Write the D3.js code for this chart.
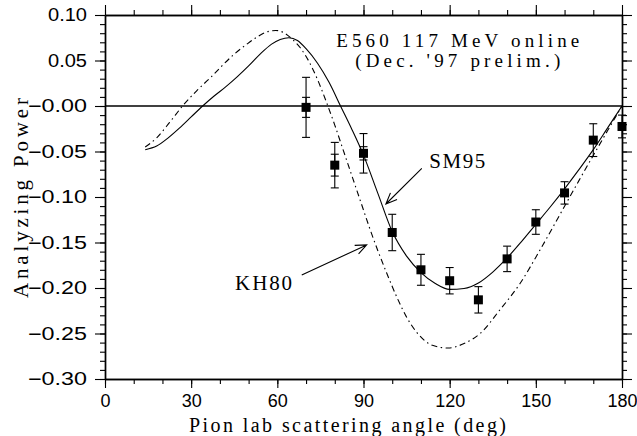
<!DOCTYPE html>
<html>
<head>
<meta charset="utf-8">
<script src="https://cdn.jsdelivr.net/npm/d3@7"></script>
<style>
  body { margin: 0; background: #fff; }
  svg { display: block; }
</style>
</head>
<body>
<div id="chartArea"></div>
<script>
// data
const angles = [70, 80, 90, 100, 110, 120, 130, 140, 150, 160, 170, 180];
const power = [-0.0015, -0.065, -0.052, -0.139, -0.180, -0.192, -0.213, -0.168, -0.1275, -0.0955, -0.0375, -0.0225];
const errTotal = [0.033, 0.025, 0.0217, 0.020, 0.017, 0.0145, 0.0145, 0.014, 0.0135, 0.0123, 0.018, 0.0125];
const errStat = [0.011, 0.012, 0.0073, null, null, null, null, null, null, null, null, null];

// SM95 (solid)
const sm95Angle = [14, 18, 22, 26, 30, 34, 38, 42, 46, 50, 54, 58, 61, 64, 67, 70, 74, 78, 82, 86, 90, 95, 100, 105, 110, 115, 120, 125, 130, 135, 140, 145, 150, 155, 160, 165, 170, 175, 180];
const sm95Power = [-0.048, -0.044, -0.035, -0.024, -0.012, 0.0, 0.011, 0.021, 0.032, 0.044, 0.057, 0.068, 0.073, 0.075, 0.072, 0.063, 0.047, 0.026, 0.0, -0.026, -0.054, -0.096, -0.138, -0.165, -0.183, -0.195, -0.2015, -0.2005, -0.1945, -0.1825, -0.167, -0.149, -0.130, -0.111, -0.091, -0.070, -0.048, -0.024, 0.0];

// KH80 (dash-dot)
const kh80Angle = [14, 18, 22.5, 27, 32, 37, 41, 45, 49, 53, 57, 59.5, 62, 65, 68, 71, 74, 77, 80, 83, 86, 89, 92, 95, 98, 101.6, 105, 108.6, 114, 119.5, 125, 130.6, 137.5, 144.5, 151.5, 159.5, 165, 170.6, 175, 180];
const kh80Power = [-0.045, -0.035, -0.018, 0.0, 0.017, 0.032, 0.045, 0.057, 0.067, 0.076, 0.082, 0.083, 0.081, 0.074, 0.064, 0.049, 0.029, 0.005, -0.021, -0.049, -0.077, -0.105, -0.133, -0.159, -0.183, -0.210, -0.232, -0.249, -0.263, -0.266, -0.261, -0.250, -0.224, -0.195, -0.158, -0.113, -0.082, -0.051, -0.027, 0.0];

const xTicks = [0, 30, 60, 90, 120, 150, 180];
const xMinor = d3.range(0, 181, 10);
const yTicks = [0.10, 0.05, 0.0, -0.05, -0.10, -0.15, -0.20, -0.25, -0.30];
const yTickLabels = ["0.10", "0.05", "\u22120.00", "\u22120.05", "\u22120.10", "\u22120.15", "\u22120.20", "\u22120.25", "\u22120.30"];
const yMinor = d3.range(-30, 11, 1).map(function (v) { return v / 100; });

// constants
const width = 637, height = 436;
const margin = { top: 15, right: 15, bottom: 57, left: 105 };
const plotW = width - margin.left - margin.right;
const plotH = height - margin.top - margin.bottom;
const serif = "'Liberation Serif', 'DejaVu Serif', serif";
const sans = "'Liberation Sans', Arial, sans-serif";

var xScale = d3.scaleLinear().domain([0, 180]).range([0, plotW]);
var yScale = d3.scaleLinear().domain([-0.30, 0.10]).range([plotH, 0]);

var svg = d3.select("#chartArea").append("svg")
    .attr("width", width)
    .attr("height", height)
    .append("g")
    .attr("transform", "translate(" + margin.left + "," + margin.top + ")");

// axes: majors with labels, minors without
function styleAxis(g) {
    g.selectAll("path").attr("stroke", "#000").attr("stroke-width", 1.4);
    g.selectAll("line").attr("stroke", "#000").attr("stroke-width", 1.1);
    g.selectAll("text").attr("fill", "#000").style("font-family", sans).style("font-size", "18px");
}

svg.append("g").attr("transform", "translate(0," + plotH + ")")
    .call(d3.axisBottom(xScale).tickValues(xTicks).tickSize(9).tickSizeOuter(0).tickPadding(6).tickFormat(d3.format("d")))
    .call(styleAxis);
svg.append("g").attr("transform", "translate(0," + plotH + ")")
    .call(d3.axisBottom(xScale).tickValues(xMinor).tickSize(5).tickSizeOuter(0).tickFormat(""))
    .call(styleAxis);

svg.append("g").call(d3.axisTop(xScale).tickValues(xTicks).tickSize(10).tickSizeOuter(0).tickFormat("")).call(styleAxis);
svg.append("g").call(d3.axisTop(xScale).tickValues(xMinor).tickSize(5).tickSizeOuter(0).tickFormat("")).call(styleAxis);

var yLeft = svg.append("g")
    .call(d3.axisLeft(yScale).tickValues(yTicks).tickSize(10).tickSizeOuter(0).tickPadding(8)
        .tickFormat(function (d, i) { return yTickLabels[i]; }));
yLeft.call(styleAxis);
// the original labels are drawn wide, with a long minus
yLeft.selectAll("text")
    .attr("textLength", function (d, i) { return yTickLabels[i].charAt(0) === "\u2212" ? 59 : 39; })
    .attr("lengthAdjust", "spacingAndGlyphs");
svg.append("g").call(d3.axisLeft(yScale).tickValues(yMinor).tickSize(5).tickSizeOuter(0).tickFormat("")).call(styleAxis);

svg.append("g").attr("transform", "translate(" + plotW + ",0)")
    .call(d3.axisRight(yScale).tickValues(yTicks).tickSize(10).tickSizeOuter(0).tickFormat("")).call(styleAxis);
svg.append("g").attr("transform", "translate(" + plotW + ",0)")
    .call(d3.axisRight(yScale).tickValues(yMinor).tickSize(5).tickSizeOuter(0).tickFormat("")).call(styleAxis);

// zero line
svg.append("line")
    .attr("x1", 0).attr("x2", plotW)
    .attr("y1", yScale(0)).attr("y2", yScale(0))
    .attr("stroke", "#000").attr("stroke-width", 1.3);

// theory curves
var line = d3.line()
    .x(function (d) { return xScale(d[0]); })
    .y(function (d) { return yScale(d[1]); })
    .curve(d3.curveMonotoneX);

svg.append("path")
    .datum(d3.zip(sm95Angle, sm95Power))
    .attr("d", line)
    .attr("fill", "none").attr("stroke", "#000").attr("stroke-width", 1.1);

svg.append("path")
    .datum(d3.zip(kh80Angle, kh80Power))
    .attr("d", line)
    .attr("fill", "none").attr("stroke", "#000").attr("stroke-width", 1.1)
    .attr("stroke-dasharray", "6,3.5,1.5,3.5");

// data points with error bars
var points = angles.map(function (a, i) {
    return { x: a, y: power[i], tot: errTotal[i], stat: errStat[i] };
});

function errorBars(sel, key) {
    sel.each(function (d) {
        var e = d[key];
        if (e == null) return;
        var g = d3.select(this);
        var cx = xScale(d.x), y1 = yScale(d.y + e), y2 = yScale(d.y - e);
        g.append("line").attr("x1", cx).attr("x2", cx).attr("y1", y1).attr("y2", y2);
        g.append("line").attr("x1", cx - 4).attr("x2", cx + 4).attr("y1", y1).attr("y2", y1);
        g.append("line").attr("x1", cx - 4).attr("x2", cx + 4).attr("y1", y2).attr("y2", y2);
    });
}

var pts = svg.selectAll(".pt").data(points).enter().append("g")
    .attr("class", "pt")
    .attr("stroke", "#000").attr("stroke-width", 1.1);
pts.call(errorBars, "tot");
pts.call(errorBars, "stat");
pts.append("rect")
    .attr("x", function (d) { return xScale(d.x) - 4.5; })
    .attr("y", function (d) { return yScale(d.y) - 4.5; })
    .attr("width", 9).attr("height", 9)
    .attr("fill", "#000").attr("stroke", "none");

// annotations (positions in data units)
function label(txt, ax, ay, len, size, anchor) {
    svg.append("text")
        .attr("x", xScale(ax)).attr("y", yScale(ay))
        .attr("text-anchor", anchor || "start")
        .attr("textLength", len).attr("lengthAdjust", "spacing")
        .style("font-family", serif).style("font-size", size + "px")
        .text(txt);
}
label("E560 117 MeV online", 122.8, 0.0652, 243, 19, "middle");
label("(Dec. '97 prelim.)", 122.8, 0.0430, 205, 19, "middle");
label("SM95", 112.9, -0.0685, 56, 21);
label("KH80", 45.3, -0.202, 57, 21);

function arrow(fx, fy, tx, ty) {
    var x1 = xScale(fx), y1 = yScale(fy), x2 = xScale(tx), y2 = yScale(ty);
    var ang = Math.atan2(y1 - y2, x1 - x2), len = 12, spread = 0.4;
    var p = d3.path();
    p.moveTo(x1, y1); p.lineTo(x2, y2);
    p.moveTo(x2 + len * Math.cos(ang - spread), y2 + len * Math.sin(ang - spread));
    p.lineTo(x2, y2);
    p.lineTo(x2 + len * Math.cos(ang + spread), y2 + len * Math.sin(ang + spread));
    svg.append("path").attr("d", p.toString())
        .attr("fill", "none").attr("stroke", "#000").attr("stroke-width", 1.1);
}
arrow(110.3, -0.0685, 97.8, -0.1077);
arrow(68.5, -0.1857, 91.1, -0.1527);

// axis titles
svg.append("text")
    .attr("x", xScale(90) - 16).attr("y", plotH + 53)
    .attr("text-anchor", "middle")
    .attr("textLength", 317).attr("lengthAdjust", "spacing")
    .style("font-family", serif).style("font-size", "20px")
    .text("Pion lab scattering angle (deg)");

svg.append("text")
    .attr("transform", "translate(" + (28 - margin.left) + "," + (198 - margin.top) + ") rotate(-90)")
    .attr("text-anchor", "middle")
    .attr("textLength", 200).attr("lengthAdjust", "spacing")
    .style("font-family", serif).style("font-size", "21px")
    .text("Analyzing Power");
</script>
</body>
</html>
